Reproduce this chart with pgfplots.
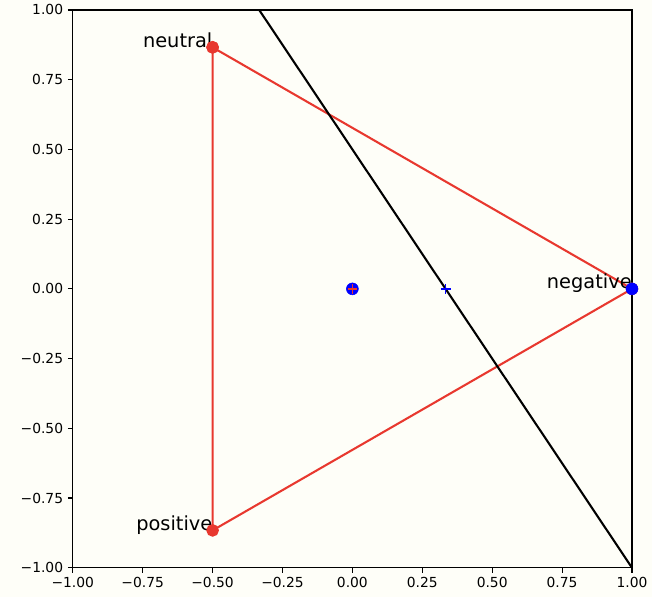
\documentclass[border=0pt]{standalone}
\usepackage{fontspec}
\setmainfont{DejaVu Sans}
\usepackage{pgfplots}
\pgfplotsset{compat=1.18}
\usetikzlibrary{backgrounds}
\definecolor{myred}{HTML}{E8382F}
\definecolor{myblue}{HTML}{0000FF}
\definecolor{bgcol}{RGB}{254,254,248}
\newcommand{\mylabel}[1]{\pgfmathparse{abs(#1)}\let\absval\pgfmathresult\ifdim#1pt<-0.0001pt −\fi\pgfmathprintnumber[fixed,fixed zerofill,precision=2,assume math mode=true]{\absval}}
\begin{document}
\begin{tikzpicture}[inner frame sep=0pt, background rectangle/.style={fill=bgcol}, show background rectangle]
\begin{axis}[
  scale only axis,
  width=404pt, height=403pt,
  xmin=-1, xmax=1, ymin=-1, ymax=1,
  xtick={-1,-0.75,...,1.01}, ytick={-1,-0.75,...,1.01},
  xticklabel={\mylabel{\tick}},
  yticklabel={\mylabel{\tick}},
  tick align=outside, major tick length=3.5pt,
  xtick pos=left, ytick pos=left,
  axis line style={line width=0.8pt},
  tick style={line width=0.8pt, black},
  tick label style={font=\fontsize{10}{12}\selectfont},
  clip=true,
]
\addplot[myred, line width=1.5pt, mark=*, mark size=3.8pt, mark options={fill=myred, draw=myred}] coordinates {(-0.5,0.8660) (1,0) (-0.5,-0.8660) (-0.5,0.8660)};
\addplot[black, line width=1.5pt] coordinates {(-0.3333,1) (1,-1)};
\addplot[only marks, mark=*, mark size=4.3pt, mark options={fill=myblue, draw=myblue}] coordinates {(0,0) (1,0)};
\addplot[only marks, mark=+, mark size=3.5pt, mark options={draw=myred, line width=1pt}] coordinates {(0,0)};
\addplot[only marks, mark=+, mark size=3.6pt, mark options={draw=myblue, line width=1.1pt}] coordinates {(0.3333,0)};
\node[anchor=base east, font=\fontsize{14}{16}\selectfont, inner sep=0pt] at (axis cs:-0.5,0.8660) {neutral};
\node[anchor=base east, font=\fontsize{14}{16}\selectfont, inner sep=0pt] at (axis cs:1,0) {negative};
\node[anchor=base east, font=\fontsize{14}{16}\selectfont, inner sep=0pt] at (axis cs:-0.5,-0.8660) {positive};
\end{axis}
\path (current axis.south west) ++(-52.6pt,-20.9pt);
\path (current axis.north east) ++(13pt,7.2pt);
\end{tikzpicture}
\end{document}
